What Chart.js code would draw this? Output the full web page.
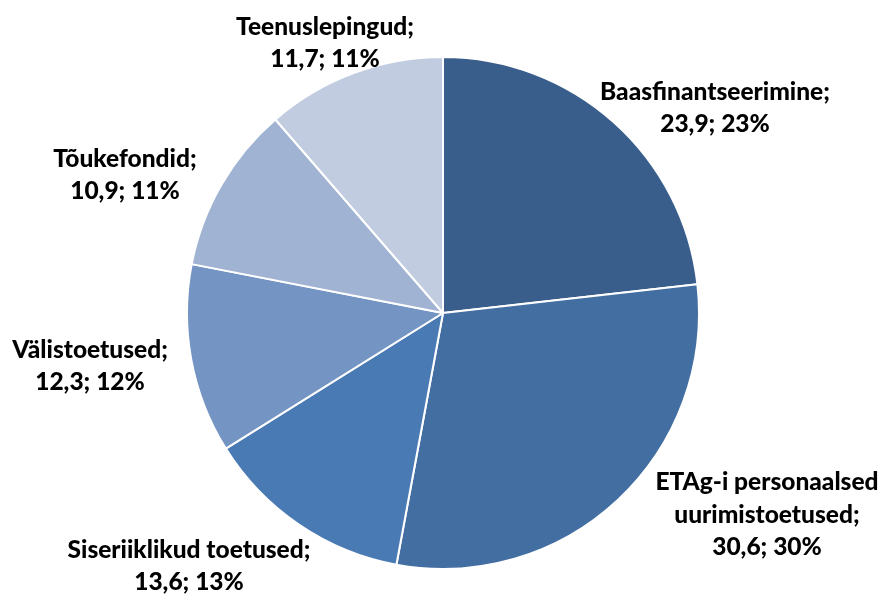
<!DOCTYPE html>
<html>
<head>
<meta charset="utf-8">
<script src="https://cdn.jsdelivr.net/npm/chart.js@4.4.1/dist/chart.umd.min.js"></script>
<style>
  html, body { margin: 0; padding: 0; background: #ffffff; }
  #wrap { width: 883px; height: 599px; position: relative; }
</style>
</head>
<body>
<div id="wrap"><canvas id="pieChart" width="883" height="599"></canvas></div>
<script>
const categories = [
  'Baasfinantseerimine',
  'ETAg-i personaalsed uurimistoetused',
  'Siseriiklikud toetused',
  'Välistoetused',
  'Tõukefondid',
  'Teenuslepingud'
];
const values = [23.9, 30.6, 13.6, 12.3, 10.9, 11.7];
const percents = ['23%', '30%', '13%', '12%', '11%', '11%'];
const colors = ['#3a5e8c', '#436ea1', '#4a7ab4', '#7495c4', '#a1b3d3', '#c1cce1'];

// label text lines and where each label block is centred
const labelLines = [
  ['Baasfinantseerimine;'],
  ['ETAg-i personaalsed', 'uurimistoetused;'],
  ['Siseriiklikud toetused;'],
  ['Välistoetused;'],
  ['Tõukefondid;'],
  ['Teenuslepingud;']
];
const labelAnchors = [[715, 108], [767, 515], [189, 566], [90, 366], [125, 175], [325, 43]];

const outsideLabels = {
  id: 'outsideLabels',
  afterDraw(chart) {
    const ctx = chart.ctx;
    ctx.save();
    ctx.font = '900 24.5px Lato';
    ctx.fillStyle = '#000000';
    ctx.textAlign = 'center';
    ctx.textBaseline = 'middle';
    const lineHeight = 32.5;
    chart.data.labels.forEach((label, i) => {
      const value = chart.data.datasets[0].data[i];
      const lines = [...labelLines[i], `${String(value).replace('.', ',')}; ${percents[i]}`];
      const [cx, cy] = labelAnchors[i];
      const top = cy - (lines.length - 1) * lineHeight / 2;
      lines.forEach((line, j) => ctx.fillText(line, cx, top + j * lineHeight));
    });
    ctx.restore();
  }
};

new Chart(document.getElementById('pieChart'), {
  type: 'pie',
  data: {
    labels: categories,
    datasets: [{
      data: values,
      backgroundColor: colors,
      borderColor: '#ffffff',
      borderWidth: 2
    }]
  },
  options: {
    responsive: false,
    animation: false,
    layout: { padding: { top: 56, bottom: 29, left: 3, right: 0 } },
    plugins: {
      legend: { display: false },
      tooltip: { enabled: false }
    }
  },
  plugins: [outsideLabels]
});
</script>
</body>
</html>
